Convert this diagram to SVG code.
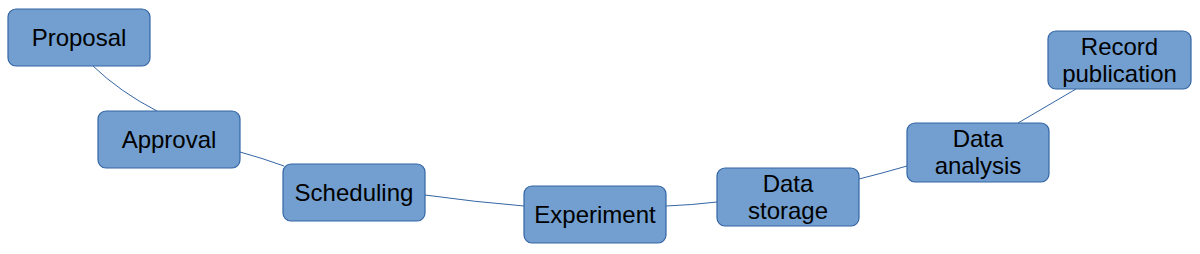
<svg xmlns="http://www.w3.org/2000/svg" width="1200" height="254" viewBox="0 0 1200 254">
<style>
.n rect{fill:#729fcf;stroke:#3465a4;stroke-width:1.2}
.n text{font-family:"Liberation Sans",Arial,sans-serif;font-size:24px;fill:#000;text-anchor:middle}
.c path{fill:none;stroke:#3465a4;stroke-width:1}
</style>
<rect width="1200" height="254" fill="#fff"/>
<g class="c" id="connectors">
<path d="M93,66 Q120,92 157,111"/>
<path d="M240,152 Q262,158 284,166"/>
<path d="M425,195 Q475,202 524,206"/>
<path d="M666,206 Q692,205 717,202"/>
<path d="M859,179 Q883,173 907,166"/>
<path d="M1018,123 Q1047,106 1076,89"/>
</g>
<g class="n" id="proposal"><rect x="8" y="9" width="142" height="57" rx="8"/><text x="79" y="46">Proposal</text></g>
<g class="n" id="approval"><rect x="98" y="111" width="142" height="57" rx="8"/><text x="169" y="148">Approval</text></g>
<g class="n" id="scheduling"><rect x="283" y="164" width="142" height="57" rx="8"/><text x="354" y="201">Scheduling</text></g>
<g class="n" id="experiment"><rect x="524" y="186" width="142" height="57" rx="8"/><text x="595" y="223">Experiment</text></g>
<g class="n" id="data-storage"><rect x="717" y="168" width="142" height="58" rx="8"/><text x="788" y="192">Data</text><text x="788" y="219">storage</text></g>
<g class="n" id="data-analysis"><rect x="907" y="123" width="142" height="59" rx="8"/><text x="978" y="147">Data</text><text x="978" y="174">analysis</text></g>
<g class="n" id="record-publication"><rect x="1048" y="31" width="143" height="58" rx="8"/><text x="1119.5" y="55">Record</text><text x="1119.5" y="82">publication</text></g>
</svg>
